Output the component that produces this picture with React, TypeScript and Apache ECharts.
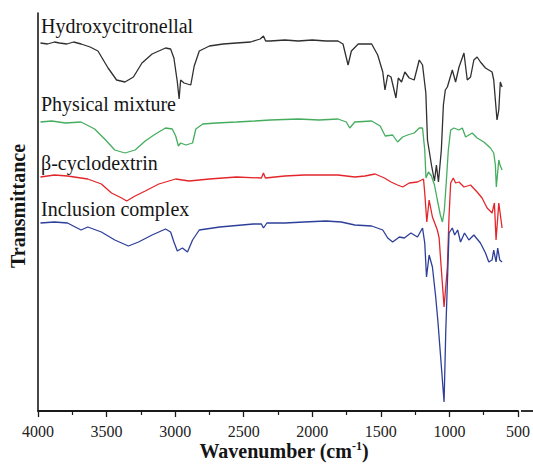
import React, { useEffect, useRef } from "react";
import * as echarts from "echarts";

// FTIR spectra: [wavenumber (cm-1), transmittance (arbitrary units, offset)]
const hydroxycitronellal: [number, number][] = [
  [3982,368],[3930,367],[3880,369],[3843,368],[3790,367],[3740,369],[3686,367],[3620,364],[3563,360],[3489,343],
  [3427,331],[3366,329],[3304,334],[3242,348],[3168,357],[3070,363],[3033,362],[3009,353],[2984,329],[2971,312],
  [2960,331],[2935,328],[2886,326],[2861,345],[2824,360],[2750,365],[2650,367],[2553,368],[2450,369],[2380,372],
  [2356,375],[2340,370],[2306,370],[2200,371],[2103,370],[2000,371],[1900,370],[1813,370],[1776,367],[1739,346],
  [1715,360],[1665,367],[1567,367],[1523,356],[1486,339],[1470,321],[1450,336],[1426,334],[1390,313],[1373,333],
  [1349,329],[1325,339],[1293,333],[1257,331],[1220,351],[1196,346],[1172,318],[1160,271],[1131,246],[1109,230],
  [1095,246],[1080,229],[1059,261],[1044,306],[1030,321],[1015,324],[979,341],[955,329],[930,344],[894,358],
  [870,331],[846,334],[822,351],[798,354],[774,349],[737,343],[689,339],[677,331],[653,291],[640,301],
  [629,329],[616,324]
];

const physicalMixture: [number, number][] = [
  [3982,289],[3900,290],[3800,288],[3686,289],[3587,282],[3514,272],[3440,261],[3366,258],[3292,261],[3218,270],
  [3144,277],[3070,283],[3021,282],[2996,275],[2976,265],[2960,268],[2922,266],[2873,268],[2849,282],[2799,287],
  [2700,288],[2552,289],[2420,290],[2306,291],[2100,292],[1950,291],[1813,292],[1752,289],[1727,283],[1690,289],
  [1567,290],[1505,285],[1468,275],[1414,276],[1378,269],[1341,274],[1305,276],[1257,278],[1220,283],[1196,283],
  [1180,261],[1171,233],[1153,239],[1131,235],[1109,226],[1088,211],[1066,196],[1051,189],[1037,201],[1022,231],
  [1008,261],[991,281],[967,283],[930,281],[906,283],[882,274],[834,278],[798,273],[749,269],[701,263],
  [677,258],[665,246],[658,224],[640,251],[631,246],[616,241]
];

const betaCyclodextrin: [number, number][] = [
  [3982,234],[3880,236],[3785,235],[3637,232],[3538,227],[3464,218],[3390,213],[3353,210],[3292,215],[3218,220],
  [3119,227],[2996,232],[2898,230],[2750,232],[2553,234],[2371,233],[2356,238],[2342,233],[2200,235],[2060,236],
  [1813,236],[1690,234],[1616,235],[1542,237],[1474,233],[1426,229],[1378,226],[1341,224],[1293,228],[1233,229],
  [1189,232],[1180,218],[1165,189],[1148,211],[1124,194],[1088,181],[1075,173],[1064,151],[1039,104],[1015,144],
  [1003,194],[991,228],[972,233],[955,228],[930,229],[894,224],[846,226],[798,219],[762,213],[725,203],
  [689,198],[672,208],[660,171],[640,208],[616,183]
];

const inclusionComplex: [number, number][] = [
  [3982,188],[3880,189],[3785,188],[3686,181],[3637,184],[3538,179],[3440,171],[3341,165],[3267,169],[3168,176],
  [3070,182],[3033,179],[3009,169],[2984,160],[2947,163],[2910,159],[2873,171],[2824,181],[2675,184],[2430,187],
  [2371,187],[2356,183],[2331,188],[2200,188],[2060,189],[1900,190],[1789,189],[1690,186],[1567,185],[1486,181],
  [1450,173],[1414,169],[1365,174],[1329,173],[1281,178],[1233,174],[1196,183],[1180,168],[1167,134],[1148,156],
  [1124,144],[1100,114],[1083,88],[1068,61],[1039,9],[1027,78],[1015,128],[1003,178],[979,183],[962,176],
  [940,181],[919,169],[890,178],[858,171],[822,176],[774,168],[737,158],[713,149],[689,151],[677,161],
  [660,149],[648,163],[633,151],[616,149]
];

const seriesNames = ["Hydroxycitronellal", "Physical mixture", "β-cyclodextrin", "Inclusion complex"];
const seriesData = [hydroxycitronellal, physicalMixture, betaCyclodextrin, inclusionComplex];
const seriesColors = ["#303030", "#45ad5f", "#e3262b", "#2e3f99"];
const labelPositions: [number, number][] = [[41, 26], [41, 104], [41, 163], [41, 209]];

const X_MIN = 500;
const X_MAX = 4000;
const X_INTERVAL = 500;

const SERIF = '"Liberation Serif", "Times New Roman", serif';

export default function App() {
  const ref = useRef<HTMLDivElement>(null);
  useEffect(() => {
    if (!ref.current) return;
    const chart = echarts.init(ref.current, undefined, { renderer: "svg" });
    chart.setOption({
      animation: false,
      backgroundColor: "#ffffff",
      grid: { left: 38, right: 12, top: 13, bottom: 56, containLabel: false },
      xAxis: {
        type: "value",
        inverse: true,
        min: X_MIN,
        max: X_MAX,
        interval: X_INTERVAL,
        axisLine: { show: true, lineStyle: { color: "#1a1a1a", width: 1.8 } },
        axisTick: { show: true, inside: false, length: 6, lineStyle: { color: "#1a1a1a", width: 1.3 } },
        minorTick: { show: true, splitNumber: 2, length: 4, lineStyle: { color: "#1a1a1a", width: 1.2 } },
        axisLabel: {
          fontFamily: SERIF,
          fontSize: 16,
          color: "#222",
          margin: 12,
          formatter: (v: number) => String(v),
        },
        splitLine: { show: false },
      },
      yAxis: {
        type: "value",
        min: 0,
        max: 398,
        axisLine: { show: true, lineStyle: { color: "#1a1a1a", width: 1.6 } },
        axisTick: { show: false },
        axisLabel: { show: false },
        splitLine: { show: false },
      },
      series: seriesData.map((d, i) => ({
        name: seriesNames[i],
        type: "line",
        data: d,
        showSymbol: false,
        symbol: "none",
        lineStyle: { color: seriesColors[i], width: 1.3 },
        itemStyle: { color: seriesColors[i] },
      })),
      graphic: [
        ...seriesNames.map((n, i) => ({
          type: "text",
          x: labelPositions[i][0],
          y: labelPositions[i][1],
          style: {
            text: n,
            font: `20px ${SERIF}`,
            fill: "#151515",
            textAlign: "left",
            textVerticalAlign: "middle",
          },
        })),
        {
          type: "text",
          x: 18,
          y: 206,
          rotation: Math.PI / 2,
          style: {
            text: "Transmittance",
            font: `bold 20px ${SERIF}`,
            fill: "#151515",
            textAlign: "center",
            textVerticalAlign: "middle",
          },
        },
        {
          type: "text",
          x: 284,
          y: 451,
          style: {
            text: "{a|Wavenumber (cm}{b|-1}{a|)}",
            textAlign: "center",
            textVerticalAlign: "middle",
            rich: {
              a: { fontFamily: SERIF, fontWeight: "bold", fontSize: 20, lineHeight: 22, fill: "#151515", color: "#151515" },
              b: { fontFamily: SERIF, fontWeight: "bold", fontSize: 12, lineHeight: 12, verticalAlign: "top", fill: "#151515", color: "#151515" },
            },
          },
        },
        {
          type: "line",
          shape: { x1: 521, y1: 411, x2: 533, y2: 411 },
          style: { stroke: "#1a1a1a", lineWidth: 1.8 },
        },
      ],
    });
    return () => chart.dispose();
  }, []);
  return (
    <div
      ref={ref}
      style={{ position: "fixed", left: 0, top: 0, width: 533, height: 467, background: "#fff" }}
    />
  );
}
